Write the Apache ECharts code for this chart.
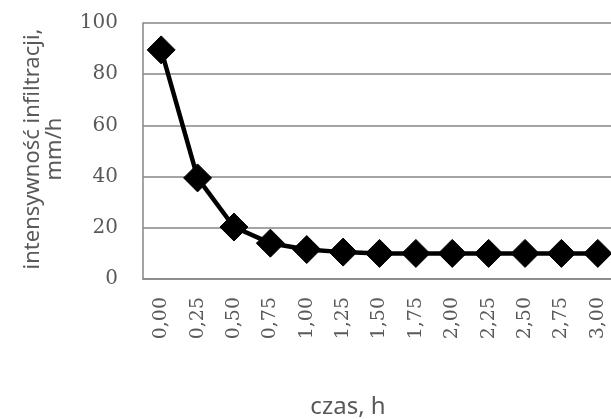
<!DOCTYPE html>
<html>
<head>
<meta charset="utf-8">
<script src="https://cdn.jsdelivr.net/npm/echarts@6/dist/echarts.min.js"></script>
<style>
  html, body { margin: 0; padding: 0; background: #fff; }
  #chart { width: 611px; height: 419px; }
</style>
</head>
<body>
<div id="chart"></div>
<script>
// Time since start of infiltration, h
const czas = ['0,00', '0,25', '0,50', '0,75', '1,00', '1,25', '1,50', '1,75', '2,00', '2,25', '2,50', '2,75', '3,00'];
// Infiltration rate, mm/h
const intensywnosc = [89.5, 39.5, 20.3, 14, 11.5, 10.5, 10, 10, 10, 10, 10, 10, 10];
// Value axis ticks
const yTicks = [0, 20, 40, 60, 80, 100];

const yTitle = 'intensywność infiltracji,\nmm/h';
const xTitle = 'czas, h';

const gray = '#595959';
const lineGray = '#868686';

const chart = echarts.init(document.getElementById('chart'), null, { renderer: 'canvas' });

chart.setOption({
  animation: false,
  backgroundColor: '#ffffff',
  grid: {
    left: 143,
    top: 23,
    width: 473,
    height: 256,
    containLabel: false,
    outerBoundsMode: 'none'
  },
  xAxis: {
    type: 'category',
    data: czas,
    boundaryGap: true,
    axisLine: { show: true, lineStyle: { color: lineGray, width: 1.5 } },
    axisTick: { show: false },
    axisLabel: {
      rotate: 90,
      margin: 18,
      interval: 0,
      color: gray,
      fontFamily: 'DejaVu Serif',
      fontSize: 19
    },
    splitLine: { show: false }
  },
  yAxis: {
    type: 'value',
    min: yTicks[0],
    max: yTicks[yTicks.length - 1],
    interval: yTicks[1] - yTicks[0],
    axisLine: { show: true, lineStyle: { color: lineGray, width: 1.5 } },
    axisTick: { show: false },
    axisLabel: {
      margin: 25,
      color: gray,
      fontFamily: 'DejaVu Serif',
      fontSize: 20
    },
    splitLine: { show: true, lineStyle: { color: lineGray, width: 1.5 } }
  },
  series: [{
    type: 'line',
    data: intensywnosc,
    symbol: 'diamond',
    symbolSize: 28,
    showSymbol: true,
    lineStyle: { color: '#000000', width: 4.5 },
    itemStyle: { color: '#000000', borderColor: '#000000' },
    z: 3
  }],
  graphic: [
    {
      type: 'text',
      x: 44,
      y: 149,
      rotation: Math.PI / 2,
      style: {
        text: yTitle,
        align: 'center',
        verticalAlign: 'middle',
        fill: gray,
        fontFamily: 'Noto Sans',
        fontSize: 22,
        lineHeight: 22
      }
    },
    {
      type: 'text',
      x: 348,
      y: 407,
      style: {
        text: xTitle,
        align: 'center',
        verticalAlign: 'middle',
        fill: gray,
        fontFamily: 'Noto Sans',
        fontSize: 24
      }
    }
  ]
});
</script>
</body>
</html>
